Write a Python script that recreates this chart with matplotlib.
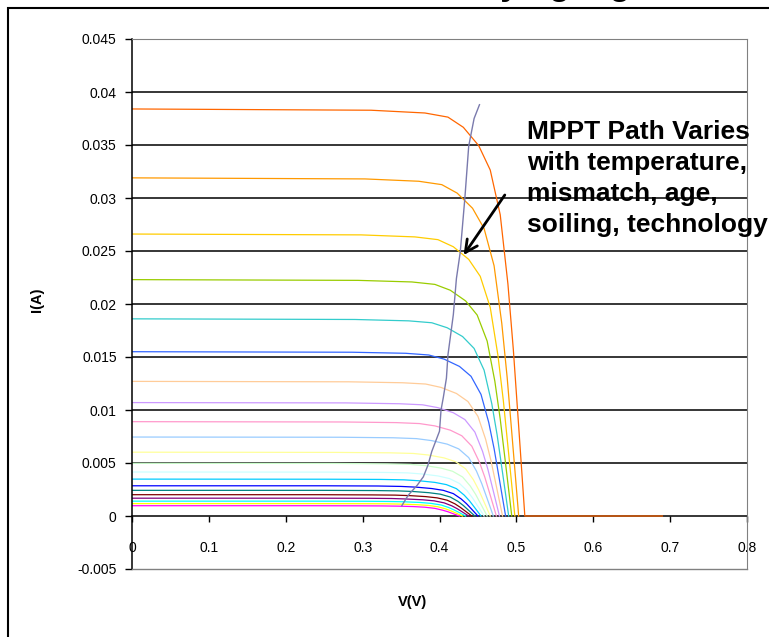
import matplotlib
matplotlib.use('Agg')
import matplotlib.pyplot as plt
from matplotlib.patches import Rectangle

plt.rcParams['font.family'] = ['Liberation Sans', 'DejaVu Sans']

# I-V curves, one per light level (lowest to highest), Excel palette order
colors = ['#FF00FF', '#FFFF00', '#00FFFF', '#800080', '#800000', '#008080', '#0000FF',
          '#00CCFF', '#CCFFFF', '#CCFFCC', '#FFFF99', '#99CCFF', '#FF99CC', '#CC99FF',
          '#FFCC99', '#3366FF', '#33CCCC', '#99CC00', '#FFCC00', '#FF9900', '#FF6600']

v_curves = [
    [0, .226, .296, .326, .346, .366, .381, .394, .404, .411, .418, .426],
    [0, .230, .300, .330, .350, .370, .385, .398, .408, .415, .422, .430],
    [0, .234, .304, .334, .354, .374, .389, .402, .412, .419, .426, .434],
    [0, .238, .308, .338, .358, .378, .393, .406, .416, .423, .430, .438],
    [0, .242, .312, .342, .362, .382, .397, .410, .420, .427, .434, .442],
    [0, .246, .316, .346, .366, .386, .401, .414, .424, .431, .438, .446],
    [0, .250, .320, .350, .370, .390, .405, .418, .428, .435, .442, .450],
    [0, .254, .324, .354, .374, .394, .409, .422, .432, .439, .446, .454],
    [0, .258, .328, .358, .378, .398, .413, .426, .436, .443, .450, .458],
    [0, .262, .332, .362, .382, .402, .417, .430, .440, .447, .454, .462],
    [0, .266, .336, .366, .386, .406, .421, .434, .444, .451, .458, .466],
    [0, .270, .340, .370, .390, .410, .425, .438, .448, .455, .462, .470],
    [0, .274, .344, .374, .394, .414, .429, .442, .452, .459, .466, .474],
    [0, .278, .348, .378, .398, .418, .433, .446, .456, .463, .470, .478],
    [0, .282, .352, .382, .402, .422, .437, .450, .460, .467, .474, .482],
    [0, .286, .356, .386, .406, .426, .441, .454, .464, .471, .478, .486],
    [0, .290, .360, .390, .410, .430, .445, .458, .468, .475, .482, .490],
    [0, .294, .364, .394, .414, .434, .449, .462, .472, .479, .486, .494],
    [0, .298, .368, .398, .418, .438, .453, .466, .476, .483, .490, .498],
    [0, .303, .373, .403, .423, .443, .458, .471, .481, .488, .495, .503],
    [0, .311, .381, .411, .431, .451, .466, .479, .489, .496, .503, .511, .69],
]

i_curves = [
    [.00097, .00097, .00096, .00095, .00093, .00089, .00083, .00072, .00055, .00040, .00021, 0],
    [.00117, .00117, .00116, .00115, .00112, .00107, .00100, .00087, .00067, .00048, .00026, 0],
    [.00140, .00140, .00139, .00137, .00134, .00128, .00119, .00104, .00080, .00057, .00031, 0],
    [.00168, .00168, .00167, .00165, .00160, .00153, .00143, .00124, .00096, .00069, .00037, 0],
    [.00201, .00201, .00199, .00197, .00192, .00183, .00171, .00149, .00115, .00082, .00044, 0],
    [.00242, .00242, .00240, .00237, .00231, .00220, .00206, .00179, .00138, .00099, .00053, 0],
    [.00285, .00285, .00283, .00279, .00272, .00259, .00242, .00211, .00162, .00117, .00063, 0],
    [.00348, .00347, .00345, .00341, .00332, .00317, .00296, .00258, .00198, .00143, .00077, 0],
    [.00415, .00414, .00411, .00407, .00396, .00378, .00353, .00307, .00237, .00170, .00091, 0],
    [.00497, .00496, .00492, .00487, .00475, .00452, .00422, .00368, .00283, .00204, .00109, 0],
    [.00602, .00600, .00596, .00590, .00575, .00548, .00512, .00445, .00343, .00247, .00132, 0],
    [.00745, .00743, .00738, .00730, .00711, .00678, .00633, .00551, .00425, .00305, .00164, 0],
    [.00890, .00887, .00881, .00872, .00850, .00810, .00757, .00659, .00507, .00365, .00196, 0],
    [.01070, .01067, .01059, .01049, .01022, .00974, .00910, .00792, .00610, .00439, .00235, 0],
    [.01270, .01266, .01257, .01245, .01213, .01156, .01080, .00940, .00724, .00521, .00279, 0],
    [.01550, .01545, .01535, .01519, .01480, .01411, .01318, .01147, .00884, .00636, .00341, 0],
    [.01860, .01854, .01841, .01823, .01776, .01693, .01581, .01376, .01060, .00763, .00409, 0],
    [.02230, .02223, .02208, .02185, .02130, .02029, .01896, .01650, .01271, .00914, .00491, 0],
    [.02660, .02652, .02633, .02607, .02540, .02421, .02261, .01968, .01516, .01091, .00585, 0],
    [.03190, .03180, .03158, .03126, .03046, .02903, .02712, .02361, .01818, .01308, .00702, 0],
    [.03840, .03828, .03802, .03763, .03667, .03494, .03264, .02842, .02189, .01574, .00845, 0, 0],
]

# maximum power point path
mppt_v = [.351, .357, .361, .371, .379, .385, .390, .400, .402, .405, .409, .411,
          .418, .422, .427, .433, .438, .445, .452]
mppt_i = [.00097, .0017, .0021, .0029, .0037, .0048, .0061, .0080, .0100, .0112, .0130,
          .0152, .0190, .0224, .0249, .0300, .0349, .0375, .0388]

yticks = [-0.005, 0, 0.005, 0.01, 0.015, 0.02, 0.025, 0.03, 0.035, 0.04, 0.045]
ytick_labels = ['-0.005', '0', '0.005', '0.01', '0.015', '0.02', '0.025', '0.03',
                '0.035', '0.04', '0.045']
xticks = [0, 0.1, 0.2, 0.3, 0.4, 0.5, 0.6, 0.7, 0.8]
xtick_labels = ['0', '0.1', '0.2', '0.3', '0.4', '0.5', '0.6', '0.7', '0.8']

W, H = 769, 637
fig = plt.figure(figsize=(W / 100, H / 100), dpi=100)
ax = fig.add_axes([132 / W, 1 - 569 / H, (747 - 132) / W, (569 - 39) / H])

# outer chart frame (cut off on the right and bottom)
fig.add_artist(Rectangle((8 / W, -0.1), 1.2, 1.1 - 8 / H, transform=fig.transFigure,
                         fill=False, edgecolor='black', lw=1.5))

# title, mostly cut off above the image
title = 'Solar Cell I-V Curves with Varying Light Intensity'
tt = fig.text(0, 1 + 4.5 / H, title, fontsize=24.5, fontweight='bold', va='baseline',
              ha='left')
r = fig.canvas.get_renderer()
tmp = fig.text(0, 0, title[:title.index('Varying') + 4], fontsize=24.5, fontweight='bold')
w_pre = tmp.get_window_extent(r).width
tmp.set_text('y')
w_y = tmp.get_window_extent(r).width
tmp.remove()
tt.set_x((510 - (w_pre - w_y / 2)) / W)

ax.set_xlim(0, 0.8)
ax.set_ylim(-0.005, 0.045)

for y in yticks[2:-1]:
    ax.axhline(y, color='black', lw=1.1, zorder=1)
ax.plot([0, 0.8], [-0.005, -0.005], color='#808080', lw=1.0, clip_on=False, zorder=3)

for v, i, c in zip(v_curves, i_curves, colors):
    ax.plot(v, i, color=c, lw=0.9, zorder=2)
ax.plot(mppt_v, mppt_i, color='#7a7aad', lw=1.0, zorder=2)

ax.spines['top'].set_color('#808080')
ax.spines['right'].set_color('#808080')
ax.spines['bottom'].set_position(('data', 0))
ax.spines['bottom'].set_zorder(1.5)
for s in ('left', 'bottom'):
    ax.spines[s].set_color('black')
    ax.spines[s].set_linewidth(1.1)

ax.set_yticks(yticks)
ax.set_yticklabels(ytick_labels)
ax.set_xticks(xticks)
ax.set_xticklabels(xtick_labels)
ax.tick_params(axis='y', direction='out', length=5, width=1, pad=6, labelsize=10)
ax.tick_params(axis='x', direction='out', length=4.5, width=1, pad=13.5, labelsize=10)

fig.text(37 / W, 1 - 300 / H, 'I(A)', rotation=90, ha='center', va='center',
         fontsize=10.5, fontweight='bold')
fig.text(413 / W, 1 - 602 / H, 'V(V)', ha='center', va='center',
         fontsize=10.5, fontweight='bold')

ax.text(0.5138, 0.0374, 'MPPT Path Varies\nwith temperature,\nmismatch, age,\nsoiling, technology',
        fontsize=19, fontweight='bold', ha='left', va='top', linespacing=1.38,
        clip_on=False, zorder=5)
ax.annotate('', xy=(0.4293, 0.0244), xytext=(0.487, 0.0305),
            arrowprops=dict(arrowstyle='->', color='black', lw=2, mutation_scale=22),
            zorder=5)

fig.savefig('out.png', dpi=100)
